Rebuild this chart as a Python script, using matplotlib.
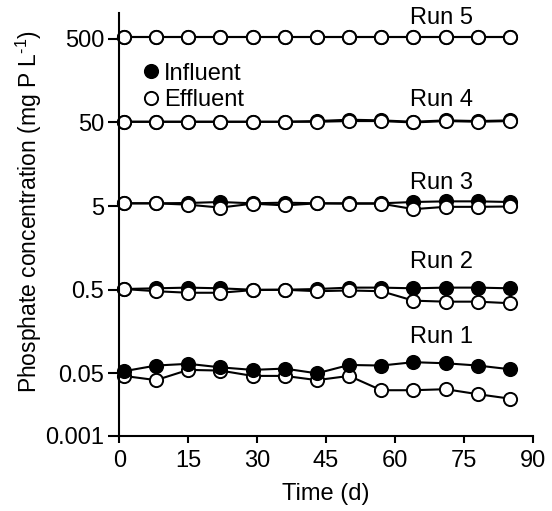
import numpy as np
import matplotlib
matplotlib.use("Agg")
import matplotlib.pyplot as plt
from matplotlib.lines import Line2D
from matplotlib.ticker import FixedLocator, FixedFormatter, NullLocator

plt.rcParams['font.family'] = ['Liberation Sans', 'DejaVu Sans']
plt.rcParams['mathtext.fontset'] = 'custom'
plt.rcParams['mathtext.rm'] = 'Liberation Sans'
plt.rcParams['mathtext.it'] = 'Liberation Sans'

# datos (mg P / L)
dias = [1, 8, 15, 22, 29, 36, 43, 50, 57, 64, 71, 78, 85]

run1_inf = [0.053, 0.062, 0.065, 0.059, 0.055, 0.057, 0.050, 0.063, 0.062, 0.068, 0.066, 0.062, 0.056]
run1_eff = [0.048, 0.0447, 0.055, 0.054, 0.048, 0.048, 0.0447, 0.048, 0.0368, 0.0368, 0.0376, 0.0337, 0.0302]

run2_inf = [0.51, 0.52, 0.53, 0.52, 0.50, 0.50, 0.51, 0.53, 0.53, 0.52, 0.53, 0.53, 0.52]
run2_eff = [0.51, 0.48, 0.46, 0.46, 0.495, 0.50, 0.48, 0.49, 0.48, 0.37, 0.36, 0.36, 0.345]

run3_inf = [5.4, 5.4, 5.45, 5.6, 5.4, 5.5, 5.4, 5.4, 5.4, 5.6, 5.7, 5.7, 5.6]
run3_eff = [5.4, 5.4, 5.2, 4.8, 5.35, 5.1, 5.4, 5.35, 5.35, 4.6, 4.9, 4.9, 4.95]

run4_inf = [51, 51, 51, 51, 51, 51, 52, 54, 53, 51, 53, 52, 53]
run4_eff = [51, 51, 51, 51, 51, 51, 51, 52, 52, 50, 52, 51, 52]

run5_inf = [520, 520, 520, 520, 520, 520, 520, 520, 520, 520, 520, 520, 520]
run5_eff = [520, 520, 520, 520, 520, 520, 520, 520, 520, 520, 520, 520, 520]

yticks = [0.001, 0.05, 0.5, 5, 50, 500]
ytick_labels = ["0.001", "0.05", "0.5", "5", "50", "500"]

# eje y: logaritmico arriba de 0.05, comprimido (lineal) por debajo
K = 0.749
L05 = np.log10(0.05)

def fwd(y):
    y = np.asarray(y, dtype=float)
    return np.where(y >= 0.05, np.log10(np.maximum(y, 1e-12)), L05 - (0.05 - y) / 0.049 * K)

def inv(u):
    u = np.asarray(u, dtype=float)
    return np.where(u >= L05, 10.0 ** u, 0.05 - (L05 - u) / K * 0.049)

fig = plt.figure(figsize=(5.52, 5.11), dpi=100)
ax = fig.add_axes([0.2161, 0.1468, 0.7494, 0.8278])
ax.set_yscale('function', functions=(fwd, inv))

def serie(y, lleno):
    fc = 'black' if lleno else 'white'
    ax.plot(dias, y, color='black', lw=1.5, marker='o', ms=9.5,
            mfc=fc, mec='black', mew=1.4, clip_on=False)

serie(run1_eff, False)
serie(run1_inf, True)
for inf, eff in [(run2_inf, run2_eff), (run3_inf, run3_eff),
                 (run4_inf, run4_eff), (run5_inf, run5_eff)]:
    serie(inf, True)
    serie(eff, False)

ax.set_xlim(0, 90)
ax.set_ylim(0.001, 1020)
ax.set_xticks(range(0, 91, 15))
ax.yaxis.set_major_locator(FixedLocator(yticks))
ax.yaxis.set_major_formatter(FixedFormatter(ytick_labels))
ax.yaxis.set_minor_locator(NullLocator())

for s in ['top', 'right']:
    ax.spines[s].set_visible(False)
for s in ['left', 'bottom']:
    ax.spines[s].set_linewidth(1.5)
ax.tick_params(axis='y', direction='out', length=8, width=1.5, labelsize=17, pad=3)
ax.tick_params(axis='x', direction='out', length=5, width=1.5, labelsize=17, pad=5)

ax.set_xlabel("Time (d)", fontsize=17, labelpad=8)
ax.set_ylabel(r"Phosphate concentration (mg P L$^{\text{-1}}$)", fontsize=16.5)
ax.yaxis.set_label_coords(-0.182, 0.53)

# etiquetas de cada corrida
for txt, yy in [("Run 5", 890), ("Run 4", 93), ("Run 3", 9.5), ("Run 2", 1.08), ("Run 1", 0.137)]:
    ax.text(70, yy, txt, fontsize=17, ha='center', va='center')

handles = [Line2D([], [], ls='none', marker='o', ms=9.5, mfc='black', mec='black', mew=1.4),
           Line2D([], [], ls='none', marker='o', ms=9.5, mfc='white', mec='black', mew=1.4)]
ax.legend(handles, ["Influent", "Effluent"], loc='upper left', bbox_to_anchor=(0.019, 0.922),
          frameon=False, fontsize=17, handlelength=0.6, handletextpad=0.25,
          labelspacing=0.2, borderaxespad=0.3)

fig.savefig("out.png", dpi=100)
